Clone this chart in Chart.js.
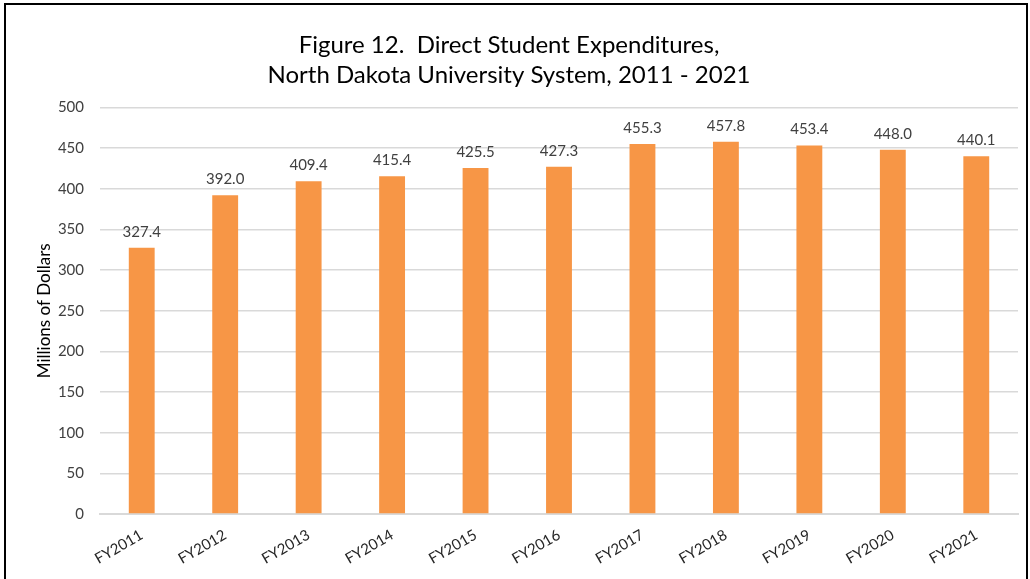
<!DOCTYPE html>
<html>
<head>
<meta charset="utf-8">
<script src="https://cdn.jsdelivr.net/npm/chart.js@4"></script>
<style>
  body { margin: 0; background: #fff; }
  #wrap { position: relative; width: 1030px; height: 579px; overflow: hidden; }
  #frame { position: absolute; left: 4px; top: 3px; width: 1020px; height: 590px; border: 2px solid #000; pointer-events: none; }
  canvas { position: absolute; left: 0; top: 0; }
</style>
</head>
<body>
<div id="wrap">
  <canvas id="chart" width="1030" height="579"></canvas>
  <div id="frame"></div>
</div>
<script>
const years = ["FY2011", "FY2012", "FY2013", "FY2014", "FY2015", "FY2016", "FY2017", "FY2018", "FY2019", "FY2020", "FY2021"];
const expenditures = [327.4, 392.0, 409.4, 415.4, 425.5, 427.3, 455.3, 457.8, 453.4, 448.0, 440.1];
const titleLines = ["Figure 12.  Direct Student Expenditures,", "North Dakota University System, 2011 - 2021"];
const yAxisLabel = "Millions of Dollars";

const fontName = "Lato, 'Open Sans', sans-serif";

// draw the value above each bar
const barValues = {
  id: "barValues",
  afterDatasetsDraw(chart) {
    const ctx = chart.ctx;
    const meta = chart.getDatasetMeta(0);
    ctx.save();
    ctx.font = "15px " + fontName;
    ctx.fillStyle = "#404040";
    ctx.textAlign = "center";
    ctx.textBaseline = "middle";
    meta.data.forEach((bar, i) => {
      ctx.fillText(expenditures[i].toFixed(1), bar.x, bar.y - 16);
    });
    ctx.restore();
  }
};

new Chart(document.getElementById("chart"), {
  type: "bar",
  data: {
    labels: years,
    datasets: [{
      data: expenditures,
      backgroundColor: "#F79646",
      categoryPercentage: 1,
      barPercentage: 0.31
    }]
  },
  options: {
    responsive: false,
    animation: false,
    layout: { padding: { left: 0, right: 12, top: 0, bottom: 0 } },
    plugins: {
      legend: { display: false },
      tooltip: { enabled: false },
      title: {
        display: true,
        text: titleLines,
        color: "#000",
        font: { family: fontName, size: 24, weight: "normal", lineHeight: 1.22 },
        padding: { top: 31, bottom: 18 }
      }
    },
    scales: {
      x: {
        grid: { display: false },
        border: { display: true, color: "#D9D9D9", width: 2 },
        ticks: {
          color: "#262626",
          font: { family: fontName, size: 15 },
          minRotation: 30,
          maxRotation: 30,
          padding: 4
        },
        afterFit(scale) { scale.height = 65; }
      },
      y: {
        min: 0,
        max: 500,
        ticks: {
          stepSize: 50,
          color: "#404040",
          font: { family: fontName, size: 15 },
          padding: 16
        },
        grid: { color: "#D9D9D9", lineWidth: 1.5, drawTicks: false },
        border: { display: false },
        title: {
          display: true,
          text: yAxisLabel,
          color: "#000",
          font: { family: fontName, size: 17 },
          padding: { top: 34, bottom: 0 }
        },
        afterFit(scale) { scale.width = 100; }
      }
    }
  },
  plugins: [barValues]
});
</script>
</body>
</html>
